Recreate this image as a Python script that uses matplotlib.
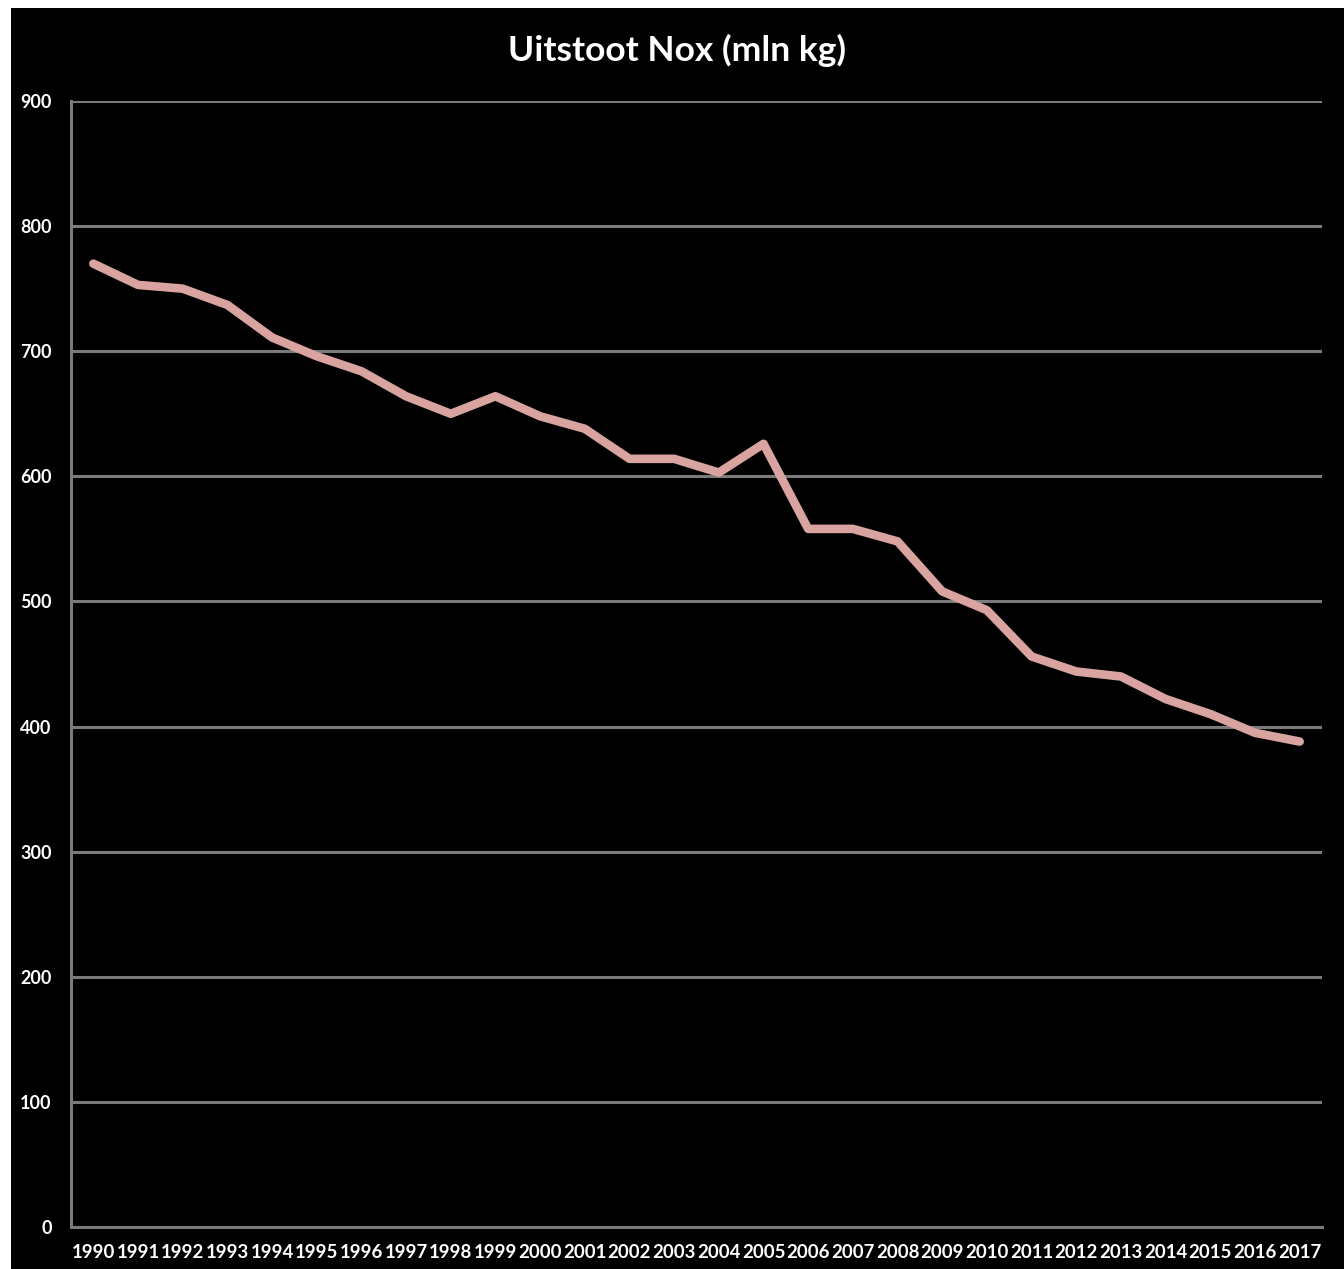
import matplotlib.pyplot as plt
from matplotlib.patches import Rectangle

# NOx emissions, million kg
years = [str(y) for y in range(1990, 2018)]
nox = [770, 753, 750, 737, 711, 696, 684, 664, 650, 664,
       648, 638, 614, 614, 603, 626, 558, 558, 548, 508,
       493, 456, 444, 440, 422, 410, 395, 388]
yticks = [0, 100, 200, 300, 400, 500, 600, 700, 800, 900]

plt.rcParams['font.family'] = ['Lato', 'DejaVu Sans']

fig = plt.figure(figsize=(13.44, 12.69), dpi=100)
fig.patch.set_facecolor('white')

# black panel behind the chart
fig.add_artist(Rectangle((11 / 1344, 0), 1, (1269 - 8) / 1269,
                         transform=fig.transFigure, facecolor='black',
                         edgecolor='none', zorder=-5))

ax = fig.add_axes([71 / 1344, 42 / 1269, 1251 / 1344, 1126 / 1269])
ax.set_facecolor('black')

x = range(len(years))
ax.plot(x, nox, color='#d9a3a0', linewidth=6.2, solid_capstyle='round',
        solid_joinstyle='round', zorder=3)

ax.set_xlim(-0.5, len(years) - 0.5)
ax.set_ylim(0, 900)
ax.set_yticks(yticks)
ax.set_xticks(list(x))
ax.set_xticklabels(years)

ax.grid(axis='y', color='#7a7a7a', linewidth=2.2)
ax.set_axisbelow(True)
for side in ['top', 'right']:
    ax.spines[side].set_visible(False)
ax.spines['left'].set_color('#7a7a7a')
ax.spines['left'].set_linewidth(2.2)
ax.spines['bottom'].set_color('#7a7a7a')
ax.spines['bottom'].set_linewidth(2.2)

ax.tick_params(axis='both', length=0, colors='white')
ax.tick_params(axis='y', pad=14, labelsize=13)
ax.tick_params(axis='x', pad=12, labelsize=13.4)
for lbl in ax.get_xticklabels() + ax.get_yticklabels():
    lbl.set_fontweight('bold')

fig.text(677 / 1344, 1 - 50 / 1269, 'Uitstoot Nox (mln kg)', color='white',
         fontsize=25.5, fontweight='bold', ha='center', va='center')

fig.savefig('out.png', dpi=100, facecolor=fig.get_facecolor())
